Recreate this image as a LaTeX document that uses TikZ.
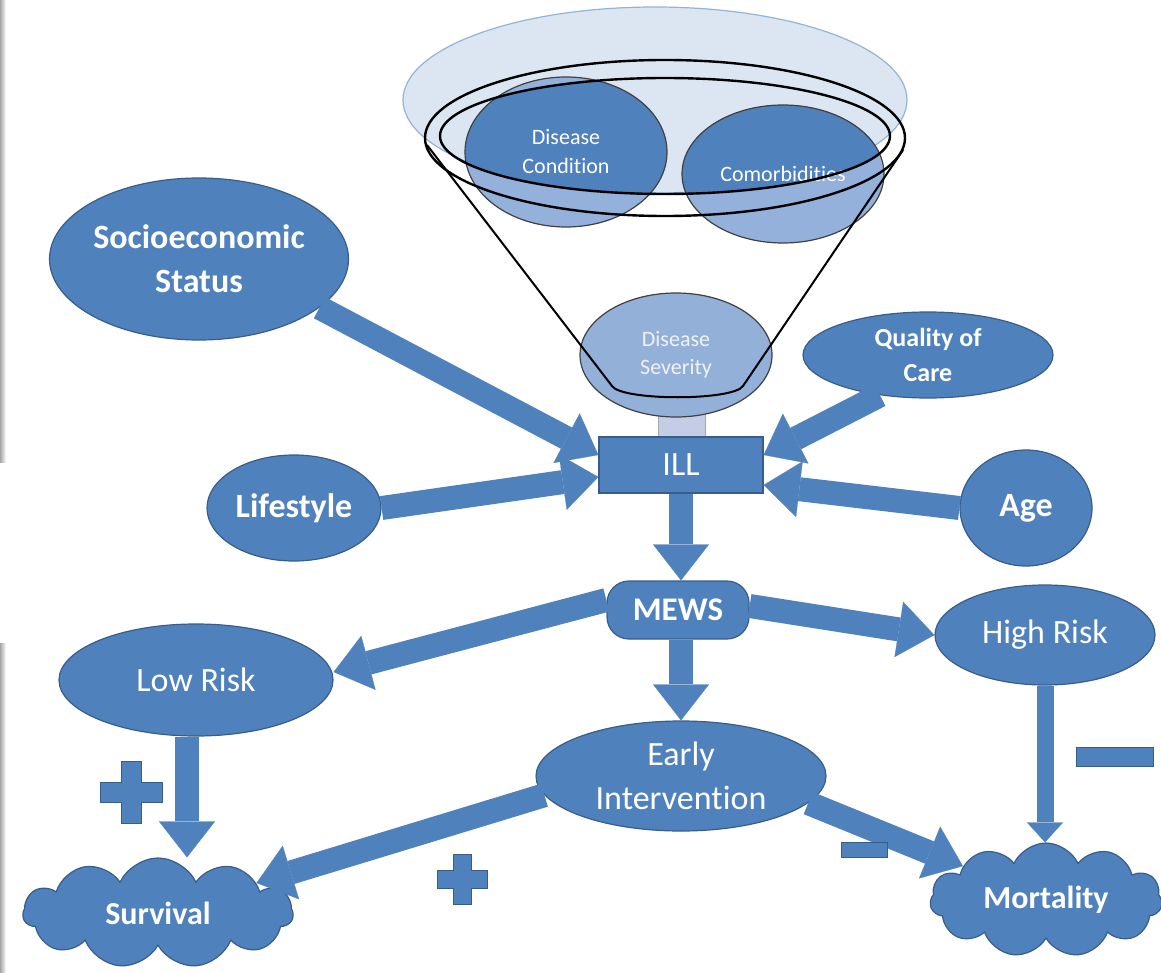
\documentclass[tikz,border=0pt]{standalone}
\usepackage{fontspec}
\setmainfont{Carlito}[Ligatures=NoCommon]
\usetikzlibrary{
  shapes.geometric, % For ellipses
  shapes.symbols, % For clouds
  arrows.meta % For block arrow tips
}

\definecolor{boxblue}{HTML}{4F81BD}
\definecolor{edgeblue}{HTML}{385D8A}
\definecolor{paleblue}{HTML}{DCE6F2}
\definecolor{paleedge}{HTML}{95B3D7}
\definecolor{glassblue}{HTML}{93B1DA}
\definecolor{sevblue}{HTML}{93B0D9}
\definecolor{stemfill}{HTML}{C5CDE6}

% plus sign: centre x, centre y, half size, half arm
\newcommand{\plussign}[4]{%
  \filldraw[signfill] (#1-#4,#2-#3) -- (#1+#4,#2-#3) -- (#1+#4,#2-#4) -- (#1+#3,#2-#4)
    -- (#1+#3,#2+#4) -- (#1+#4,#2+#4) -- (#1+#4,#2+#3) -- (#1-#4,#2+#3)
    -- (#1-#4,#2+#4) -- (#1-#3,#2+#4) -- (#1-#3,#2-#4) -- (#1-#4,#2-#4) -- cycle;}

\begin{document}
\begin{tikzpicture}[
      x=0.5pt, y=-0.5pt, % pixel grid, y downwards
      blob/.style={ellipse, fill=boxblue, draw=edgeblue, line width=0.6pt,
        text=white, inner sep=0pt, align=center},
      big/.style={font=\fontsize{17}{22}\selectfont},
      bigbold/.style={font=\fontsize{17}{22}\selectfont\bfseries},
      glass/.style={ellipse, fill=glassblue, draw=black!75, line width=0.6pt,
        text=white, inner sep=0pt, align=center,
        font=\fontsize{11}{14.5}\selectfont,
        path picture={\fill[boxblue] (rim) ellipse [x radius=112.5pt, y radius=29pt];}},
      puff/.style={cloud, cloud puffs=11, cloud puff arc=130, cloud ignores aspect,
        fill=boxblue, draw=edgeblue, line width=0.6pt, text=white, inner sep=0pt,
        font=\fontsize{16}{19}\selectfont\bfseries},
      blockarrow/.style={draw=boxblue, line width=12pt,
        -{Triangle[width=28pt, length=18pt, line width=0.1pt]}},
      thinarrow/.style={draw=boxblue, line width=8.5pt,
        -{Triangle[width=18pt, length=10pt, line width=0.1pt]}},
      signfill/.style={fill=boxblue, draw=edgeblue, line width=0.5pt},
      rimline/.style={black, line width=1.2pt},
    ]
    \useasboundingbox (0,0) rectangle (1161,973);

    % page shadow on the left
    \shade[left color=black!35, right color=white] (0,0) rectangle (6,462);
    \shade[left color=black!35, right color=white] (0,643) rectangle (6,973);

    % Funnel top
    \coordinate (rim) at (665,136);
    \filldraw[fill=paleblue, draw=paleedge, line width=0.6pt]
      (655,100) ellipse [x radius=252, y radius=93];
    \node[glass, minimum width=101pt, minimum height=75pt] (cond) at (566,152)
      {Disease\\Condition};
    \node[glass, minimum width=101pt, minimum height=69pt] (comorb) at (783,174)
      {Comorbidities};

    % Stem and severity
    \filldraw[fill=stemfill, draw=gray!70] (658,405) rectangle (705,440);
    \node[ellipse, fill=sevblue, draw=black!75, line width=0.6pt, inner sep=0pt,
      minimum width=96pt, minimum height=62pt, align=center,
      text=white!85!sevblue, font=\fontsize{11}{14}\selectfont] (sev) at (676,355)
      {Disease\\Severity};

    % Funnel lines
    \draw[rimline] (665,138) ellipse [x radius=240, y radius=78];
    \draw[rimline] (rim) ellipse [x radius=225, y radius=58];
    \draw[black, line width=1pt] (427,145) -- (612,386)
      .. controls (622,401) and (733,401) .. (743,386) -- (903,150);

    % Knoten
    \node[rectangle, fill=boxblue, draw=edgeblue, line width=0.6pt, text=white,
      big, minimum width=82pt, minimum height=28pt] (ill) at (681,465) {ILL};
    \node[blob, bigbold, minimum width=147pt, minimum height=81pt] (ses) at (199,259)
      {Socioeconomic\\Status};
    \node[blob, bigbold, minimum width=87pt, minimum height=53pt] (life) at (294,508)
      {Lifestyle};
    \node[blob, font=\fontsize{13}{17.5}\selectfont\bfseries,
      minimum width=125pt, minimum height=43pt] (care) at (928,355) {Quality of\\Care};
    \node[blob, bigbold, minimum width=66pt, minimum height=58pt] (age) at (1026,508)
      {Age};
    \node[rectangle, rounded corners=11pt, fill=boxblue, draw=edgeblue,
      line width=0.6pt, text=white, font=\fontsize{16.5}{20}\selectfont\bfseries,
      minimum width=71pt, minimum height=29pt] (mews) at (678,610) {MEWS};
    \node[blob, big, minimum width=110pt, minimum height=50pt] (high) at (1045,635)
      {High Risk};
    \node[blob, big, minimum width=137pt, minimum height=56pt] (low) at (196,680)
      {Low Risk};
    \node[blob, big, minimum width=145pt, minimum height=55pt] (early) at (681,776)
      {Early\\Intervention};
    \node[puff, minimum width=135pt, minimum height=55pt] (surv) at (158,913)
      {Survival};
    \node[puff, minimum width=116pt, minimum height=57pt] (mort) at (1046,900)
      {Mortality};

    % Pfeile
    \draw[blockarrow] (ses.-22) -- ([yshift=5pt]ill.west);
    \draw[blockarrow] (life.east) -- ([yshift=-6pt]ill.west);
    \draw[blockarrow] (care.-140) -- ([yshift=5pt]ill.east);
    \draw[blockarrow] (age.west) -- ([yshift=-10pt]ill.east);
    \draw[blockarrow] (ill.south) -- (ill.south |- mews.north);
    \draw[blockarrow] ([yshift=5pt]mews.west) -- ([yshift=4pt]low.east);
    \draw[blockarrow] ([yshift=2pt]mews.east) -- (high.west);
    \draw[blockarrow] (early |- mews.south) -- (early.north);
    \draw[blockarrow] ([xshift=-4.5pt]low.south) -- ([xshift=-4.5pt]low.south |- surv.north);
    \draw[blockarrow] (early.188) -- (surv);
    \draw[blockarrow] (early.-12) -- (mort);
    \draw[thinarrow] (high.south) -- (high.south |- mort.north);

    % Vorzeichen
    \plussign{131.5}{792.5}{31}{10}
    \plussign{462}{879}{25}{9}
    \filldraw[signfill] (841,842) rectangle (887,857);
    \filldraw[signfill] (1076,747) rectangle (1153,766);

  \end{tikzpicture}
\end{document}
